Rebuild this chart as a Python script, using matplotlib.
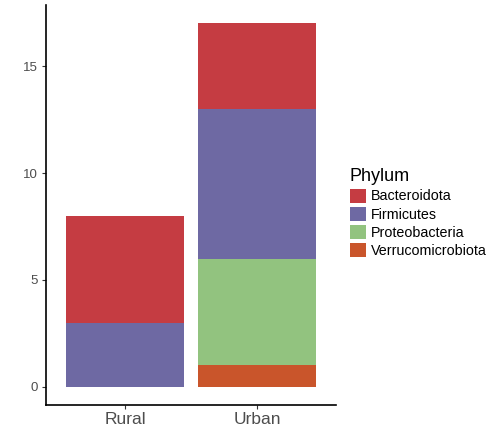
import numpy as np
import matplotlib
matplotlib.use('Agg')
from matplotlib import pyplot as plt
from matplotlib.patches import Patch

plt.rcParams['font.family'] = ['Liberation Sans', 'DejaVu Sans']

groups = ['Rural', 'Urban']
phyla = ['Bacteroidota', 'Firmicutes', 'Proteobacteria', 'Verrucomicrobiota']
colors = ['#C53C42', '#6E69A3', '#92C37F', '#C9552B']
# counts per phylum, for Rural and Urban
counts = {
    'Bacteroidota': [5, 4],
    'Firmicutes': [3, 7],
    'Proteobacteria': [0, 5],
    'Verrucomicrobiota': [0, 1],
}

fig = plt.figure(figsize=(4.94, 4.28), dpi=100)
ax = fig.add_axes([0.0931, 0.0537, 0.587, 0.934])

x = np.arange(1, len(groups) + 1)
# stack from the bottom: last phylum first (ggplot order)
bottom = np.zeros(len(groups))
for name, col in zip(phyla[::-1], colors[::-1]):
    vals = np.array(counts[name], dtype=float)
    ax.bar(x, vals, width=0.9, bottom=bottom, color=col, edgecolor='none')
    bottom += vals

total = bottom.max()
ax.set_xlim(0.4, 2.6)
ax.set_ylim(-0.05 * total, total * 1.05)
ax.set_xticks(x)
ax.set_xticklabels(groups, fontsize=12.5, color='#4D4D4D')
ax.set_yticks([0, 5, 10, 15])
ax.tick_params(axis='y', labelsize=9.5, labelcolor='#4D4D4D', length=3, width=0.8, color='#333333', pad=3)
ax.tick_params(axis='x', length=3, width=0.8, color='#333333', pad=2)
for s in ['top', 'right']:
    ax.spines[s].set_visible(False)
for s in ['left', 'bottom']:
    ax.spines[s].set_linewidth(1.2)
    ax.spines[s].set_color('black')

handles = [Patch(facecolor=c, edgecolor='none') for c in colors]
leg = fig.legend(handles, phyla, loc='upper left', bbox_to_anchor=(0.696, 0.62),
                 frameon=False, title='Phylum', fontsize=10.3, title_fontsize=13,
                 handlelength=1.15, handleheight=1.15, handletextpad=0.35,
                 labelspacing=0.22, borderaxespad=0)
leg._legend_box.align = 'left'

plt.savefig('out.png', dpi=100)
